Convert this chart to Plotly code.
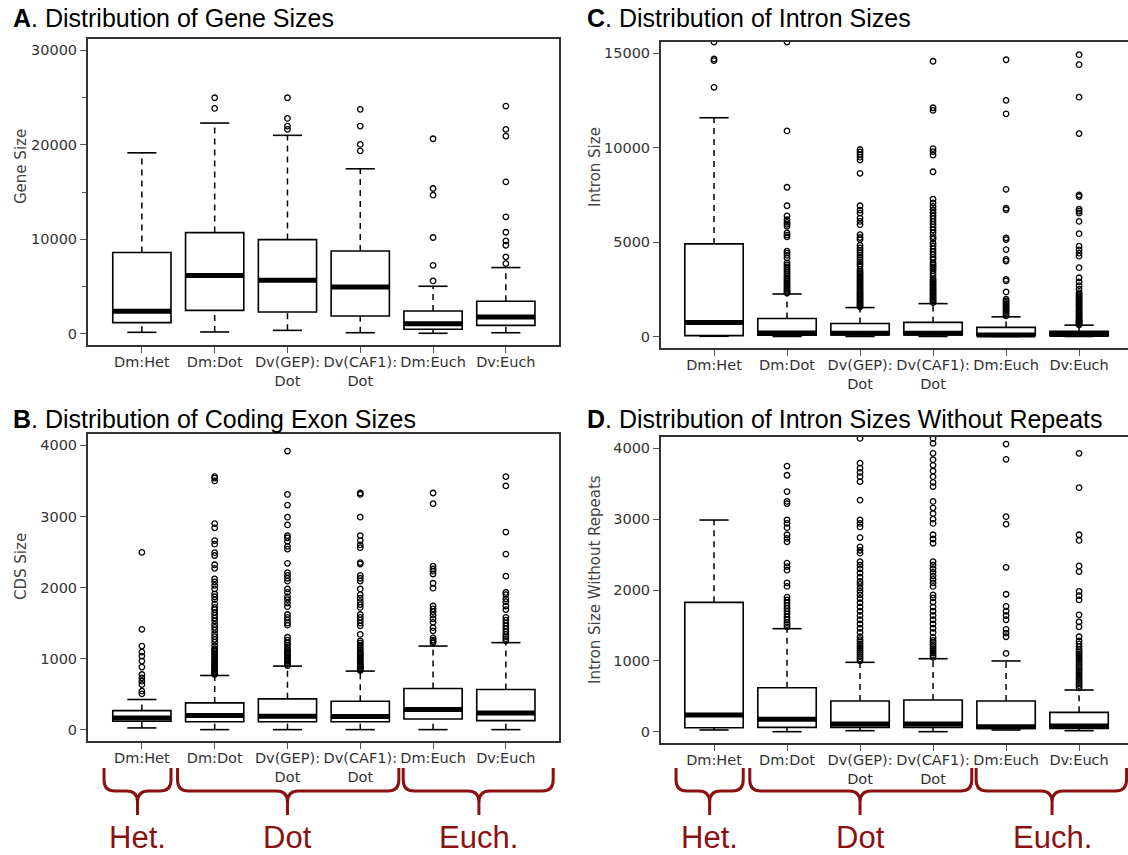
import plotly.graph_objects as go

W, H = 1128, 855

categories = ["Dm:Het", "Dm:Dot", "Dv(GEP):<br>Dot", "Dv(CAF1):<br>Dot", "Dm:Euch", "Dv:Euch"]

# ---------------- A. Gene sizes ----------------
gene_lower = [140, 180, 350, 100, 40, 100]
gene_q1 = [1170, 2470, 2300, 1870, 460, 880]
gene_median = [2370, 6150, 5650, 4950, 1060, 1770]
gene_q3 = [8590, 10700, 9960, 8760, 2400, 3430]
gene_upper = [19150, 22300, 21000, 17460, 5020, 7000]
gene_outliers = [
    [],
    [23850, 24980],
    [21630, 21980, 22790, 24980],
    [19360, 20040, 21980, 23750],
    [5580, 7240, 10180, 14660, 15370, 20640],
    [7420, 8130, 9360, 9820, 10740, 12370, 16080, 20920, 21630, 24100],
]

# ---------------- B. Coding exon sizes ----------------
cds_lower = [24, 0, 0, 0, 0, 0]
cds_q1 = [118, 110, 110, 110, 150, 127]
cds_median = [165, 200, 190, 185, 283, 235]
cds_q3 = [268, 376, 433, 400, 579, 565]
cds_upper = [424, 762, 894, 824, 1176, 1224]
cds_outliers = [
    [503, 541, 635, 682, 729, 776, 880, 965, 1035, 1092, 1176, 1412, 2494],
    [775, 790, 805, 820, 835, 850, 865, 880, 895, 910, 925, 940, 960, 980, 1000, 1020,
     1040, 1060, 1080, 1100, 1120, 1140, 1180, 1230, 1270, 1310, 1350, 1400, 1440, 1480,
     1530, 1570, 1610, 1650, 1690, 1720, 1770, 1830, 1870, 1910, 1980, 2030, 2080, 2120,
     2270, 2320, 2450, 2490, 2610, 2660, 2840, 2900, 3500, 3540, 3560],
    [900, 920, 940, 960, 980, 1000, 1020, 1040, 1060, 1080, 1100, 1130, 1160, 1190, 1220,
     1260, 1300, 1470, 1500, 1540, 1580, 1620, 1730, 1780, 1830, 1870, 1930, 1980, 2090,
     2130, 2170, 2210, 2340, 2540, 2580, 2650, 2700, 2730, 2880, 2990, 3160, 3310, 3920],
    [830, 845, 860, 875, 890, 905, 920, 940, 960, 980, 1000, 1020, 1040, 1060, 1080, 1100,
     1130, 1160, 1190, 1220, 1250, 1340, 1460, 1500, 1540, 1580, 1620, 1720, 1760, 1800,
     1850, 1900, 1980, 2090, 2130, 2170, 2330, 2350, 2560, 2600, 2660, 2730, 2990, 3310, 3330],
    [1220, 1240, 1260, 1290, 1390, 1435, 1510, 1560, 1610, 1660, 1700, 1740, 1990, 2060,
     2190, 2230, 2260, 2300, 3180, 3330],
    [1250, 1280, 1310, 1340, 1380, 1420, 1460, 1500, 1540, 1580, 1690, 1740, 1800, 1840,
     1900, 1930, 2160, 2470, 2780, 3430, 3560],
]

# ---------------- C. Intron sizes ----------------
intron_lower = [20, 10, 10, 10, 10, 10]
intron_q1 = [55, 80, 90, 90, 55, 55]
intron_median = [750, 190, 175, 175, 90, 120]
intron_q3 = [4910, 965, 700, 755, 490, 280]
intron_upper = [11590, 2260, 1540, 1750, 1050, 610]
intron_outliers = [
    [13200, 14610, 14700, 15600, 16500],
    [2300, 2380, 2460, 2540, 2620, 2700, 2780, 2860, 2940, 3020, 3100, 3200, 3300, 3400,
     3500, 3600, 3700, 3800, 3910, 4170, 4300, 4420, 4525, 5280, 5380, 5490, 5840, 5950,
     6050, 6190, 6400, 6930, 7910, 10890, 15600],
    [1580, 1650, 1720, 1790, 1860, 1930, 2000, 2070, 2140, 2210, 2280, 2350, 2420, 2500,
     2580, 2660, 2740, 2820, 2900, 2980, 3060, 3140, 3220, 3300, 3380, 3460, 3560, 3740,
     3850, 3960, 4080, 4200, 4320, 4450, 4580, 4700, 4840, 5140, 5250, 5400, 5930, 6100,
     6280, 6540, 6700, 6930, 8650, 9350, 9500, 9650, 9780, 9910],
    [1800, 1870, 1940, 2010, 2080, 2150, 2220, 2290, 2360, 2430, 2500, 2580, 2660, 2740,
     2820, 2900, 2980, 3060, 3200, 3350, 3500, 3600, 3700, 3800, 3900, 4090, 4200, 4350,
     4500, 4650, 4800, 4950, 5170, 5300, 5490, 5650, 5800, 5950, 6100, 6250, 6400, 6560,
     6720, 6890, 7080, 7280, 8730, 9610, 9800, 9960, 11980, 12120, 14580],
    [1100, 1180, 1260, 1340, 1420, 1500, 1580, 1660, 1740, 1820, 1900, 1980, 2370, 2950,
     3030, 4000, 4090, 4610, 5140, 5230, 6720, 6800, 7800, 11800, 12510, 14660],
    [630, 680, 730, 780, 840, 900, 960, 1020, 1080, 1150, 1220, 1290, 1360, 1440, 1520,
     1600, 1680, 1760, 1840, 1920, 2000, 2080, 2160, 2240, 2330, 2510, 2700, 2900, 3120,
     3650, 4260, 4420, 4600, 4790, 5450, 6100, 6540, 6650, 6750, 7420, 7510, 10750, 12680,
     14400, 14930],
]

# ---------------- D. Intron sizes without repeats ----------------
norep_lower = [24, 0, 14, 0, 24, 14]
norep_q1 = [56, 61, 61, 61, 47, 47]
norep_median = [235, 174, 108, 108, 70, 80]
norep_q3 = [1826, 621, 433, 447, 433, 273]
norep_upper = [2988, 1454, 979, 1030, 998, 588]
norep_outliers = [
    [],
    [1480, 1510, 1540, 1580, 1620, 1660, 1700, 1740, 1780, 1820, 1860, 1900, 2050, 2100,
     2280, 2330, 2380, 2680, 2730, 2780, 2880, 2940, 2990, 3220, 3250, 3390, 3620, 3750],
    [1000, 1030, 1060, 1090, 1120, 1150, 1180, 1210, 1240, 1270, 1300, 1340, 1400, 1460,
     1520, 1580, 1640, 1700, 1760, 1820, 1880, 1930, 1980, 2030, 2080, 2120, 2180, 2240,
     2300, 2350, 2400, 2520, 2560, 2610, 2740, 2890, 2940, 2990, 3270, 3530, 3600, 3660,
     3720, 3790, 4140],
    [1050, 1080, 1110, 1140, 1170, 1200, 1230, 1260, 1290, 1330, 1400, 1460, 1520, 1580,
     1640, 1700, 1760, 1830, 1890, 1930, 2050, 2100, 2150, 2200, 2250, 2300, 2350, 2400,
     2660, 2720, 2780, 2940, 3000, 3080, 3160, 3250, 3460, 3520, 3600, 3680, 3760, 3840,
     3930, 4070, 4140],
    [1105, 1340, 1390, 1445, 1580, 1640, 1700, 1770, 1940, 2320, 2930, 3035, 3845, 4060],
    [620, 650, 680, 710, 740, 770, 800, 830, 860, 890, 920, 950, 980, 1010, 1040, 1070,
     1100, 1130, 1160, 1200, 1240, 1280, 1340, 1480, 1550, 1650, 1860, 1920, 1980, 2260,
     2340, 2700, 2780, 3445, 3930],
]

panel_titles = ["<b>A</b>. Distribution of Gene Sizes",
                "<b>B</b>. Distribution of Coding Exon Sizes",
                "<b>C</b>. Distribution of Intron Sizes",
                "<b>D</b>. Distribution of Intron Sizes Without Repeats"]
y_titles = ["Gene Size", "CDS Size", "Intron Size", "Intron Size Without Repeats"]
y_tickvals = [[0, 10000, 20000, 30000], [0, 1000, 2000, 3000, 4000],
              [0, 5000, 10000, 15000], [0, 1000, 2000, 3000, 4000]]
y_ranges = [[-1200, 31200], [-160, 4160], [-600, 15600], [-160, 4160]]

group_labels = ["Het.", "Dot", "Euch."]
# bracket extents (in category units) : start, centre, end
group_spans = [(-0.52, -0.06, 0.40), (0.49, 2.0, 3.53), (3.59, 4.63, 5.65)]

# --------------- layout geometry (pixels) ---------------
panels_px = {  # left, right, top, bottom
    0: (88, 559, 39, 345),
    1: (88, 559, 434, 741),
    2: (661, 1128, 42, 348),
    3: (661, 1128, 437, 743),
}
x_ranges = [[-0.74, 5.73], [-0.74, 5.73], [-0.726, 5.67], [-0.726, 5.67]]
title_px = [(11, 18.5), (11, 419), (585, 18.5), (585, 419)]
ytitle_px = [(21, 167), (21, 567), (595, 167), (595, 580)]

def px2x(p):
    return p / W

def px2y(p):
    return 1 - p / H

datasets = [
    (gene_lower, gene_q1, gene_median, gene_q3, gene_upper, gene_outliers),
    (cds_lower, cds_q1, cds_median, cds_q3, cds_upper, cds_outliers),
    (intron_lower, intron_q1, intron_median, intron_q3, intron_upper, intron_outliers),
    (norep_lower, norep_q1, norep_median, norep_q3, norep_upper, norep_outliers),
]

fig = go.Figure()
BOX_W = 0.8
CAP_W = 0.4
pos = list(range(len(categories)))

for k, (lo, q1, med, q3, hi, outs) in enumerate(datasets):
    xa = "x" if k == 0 else f"x{k+1}"
    ya = "y" if k == 0 else f"y{k+1}"
    fig.add_trace(go.Box(
        x=pos, q1=q1, median=med, q3=q3, lowerfence=q1, upperfence=q3,
        width=BOX_W, whiskerwidth=0, fillcolor="white",
        line=dict(color="black", width=1.6), boxpoints=False,
        xaxis=xa, yaxis=ya, hoverinfo="skip"))
    wx, wy, cx, cy, mx, my, ox, oy = [], [], [], [], [], [], [], []
    for i in pos:
        wx += [i, i, None, i, i, None]
        wy += [lo[i], q1[i], None, q3[i], hi[i], None]
        cx += [i - CAP_W / 2, i + CAP_W / 2, None, i - CAP_W / 2, i + CAP_W / 2, None]
        cy += [lo[i], lo[i], None, hi[i], hi[i], None]
        mx += [i - BOX_W / 2, i + BOX_W / 2, None]
        my += [med[i], med[i], None]
        ox += [i] * len(outs[i])
        oy += outs[i]
    fig.add_trace(go.Scatter(x=wx, y=wy, mode="lines", xaxis=xa, yaxis=ya,
                             line=dict(color="black", width=1.5, dash="6px,5px"),
                             hoverinfo="skip"))
    fig.add_trace(go.Scatter(x=cx, y=cy, mode="lines", xaxis=xa, yaxis=ya,
                             line=dict(color="black", width=1.6), hoverinfo="skip"))
    fig.add_trace(go.Scatter(x=mx, y=my, mode="lines", xaxis=xa, yaxis=ya,
                             line=dict(color="black", width=5), hoverinfo="skip"))
    fig.add_trace(go.Scatter(x=ox, y=oy, mode="markers", xaxis=xa, yaxis=ya,
                             marker=dict(symbol="circle-open", size=5.5, color="black",
                                         line=dict(width=1.3, color="black")),
                             hoverinfo="skip"))

layout = dict(width=W, height=H, margin=dict(l=0, r=0, t=0, b=0),
              paper_bgcolor="white", plot_bgcolor="white", showlegend=False)

tickfont = dict(family="DejaVu Sans", size=14.5, color="#333")
annotations = []
shapes = []
RED = "#8b1111"

for k in range(4):
    l, r, t, b = panels_px[k]
    xname = "xaxis" if k == 0 else f"xaxis{k+1}"
    yname = "yaxis" if k == 0 else f"yaxis{k+1}"
    xa = "x" if k == 0 else f"x{k+1}"
    ya = "y" if k == 0 else f"y{k+1}"
    full_box = k < 2
    layout[xname] = dict(
        domain=[px2x(l), px2x(r)], range=x_ranges[k], anchor=ya,
        showgrid=False, zeroline=False, showline=True, mirror=True,
        linecolor="#333", linewidth=2, ticks="outside", ticklen=6,
        tickcolor="#555", tickwidth=1.2, tickvals=pos, ticktext=categories,
        tickfont=tickfont, ticklabelstandoff=-3, fixedrange=True)
    ydict = dict(
        domain=[px2y(b), px2y(t)], range=y_ranges[k], anchor=xa,
        showgrid=False, zeroline=False, showline=True, mirror=full_box,
        linecolor="#333", linewidth=2, ticks="outside", ticklen=6,
        tickcolor="#555", tickwidth=1.2, tickvals=y_tickvals[k], tickformat="d",
        tickfont=tickfont, fixedrange=True)
    if k == 0:
        ydict["minor"] = dict(tickvals=[5000, 15000, 25000], ticks="outside",
                              ticklen=4, tickcolor="#555", tickwidth=1.2)
    layout[yname] = ydict

    tx, ty = title_px[k]
    annotations.append(dict(text=panel_titles[k], x=px2x(tx), y=px2y(ty),
                            xref="paper", yref="paper", xanchor="left", yanchor="middle",
                            showarrow=False,
                            font=dict(family="Liberation Sans", size=25, color="black")))
    yx, yy = ytitle_px[k]
    annotations.append(dict(text=y_titles[k], x=px2x(yx), y=px2y(yy), textangle=-90,
                            xref="paper", yref="paper", xanchor="center", yanchor="middle",
                            showarrow=False,
                            font=dict(family="DejaVu Sans", size=15, color="#444")))

    # brackets below the bottom panels
    if k in (1, 3):
        rng = x_ranges[k]
        dom = layout[xname]["domain"]

        def u2p(u):
            return dom[0] + (u - rng[0]) / (rng[1] - rng[0]) * (dom[1] - dom[0])

        ye, ym, yt = px2y(768), px2y(791), px2y(815)
        rx, ry = 11 / W, 11 / H
        for lab, (s, c, e) in zip(group_labels, group_spans):
            x0, xc, x1 = u2p(s), u2p(c), u2p(e)
            path = (f"M {x0},{ye} L {x0},{ym+ry} Q {x0},{ym} {x0+rx},{ym} "
                    f"L {xc-rx},{ym} Q {xc},{ym} {xc},{ym-ry} L {xc},{yt} "
                    f"M {xc},{ym-ry} Q {xc},{ym} {xc+rx},{ym} L {x1-rx},{ym} "
                    f"Q {x1},{ym} {x1},{ym+ry} L {x1},{ye}")
            shapes.append(dict(type="path", path=path, xref="paper", yref="paper",
                               line=dict(color=RED, width=3)))
            annotations.append(dict(text=lab, x=c, y=px2y(837), xref=xa, yref="paper",
                                    xanchor="center", yanchor="middle", showarrow=False,
                                    font=dict(family="Liberation Sans", size=31, color=RED)))

layout["annotations"] = annotations
layout["shapes"] = shapes
fig.update_layout(**layout)
fig.write_html("out.html")
